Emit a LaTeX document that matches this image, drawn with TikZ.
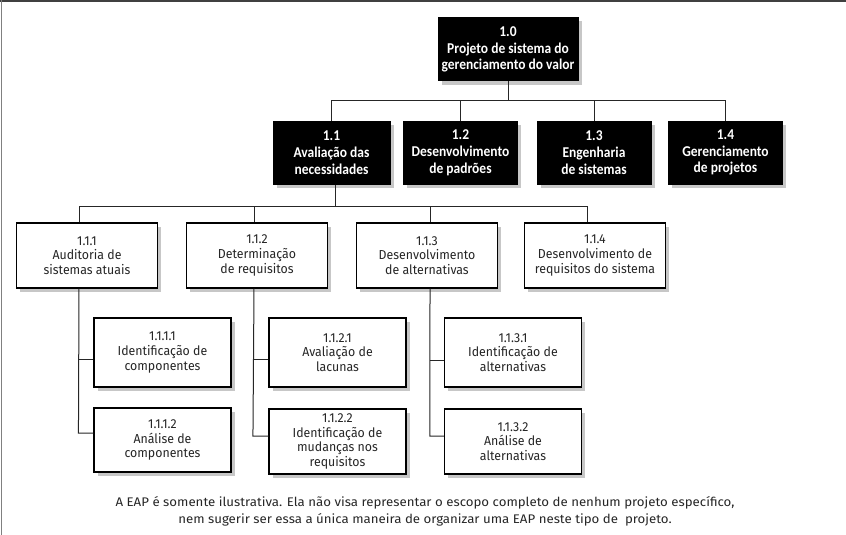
\documentclass[tikz,border=0pt]{standalone}
\usepackage{fontspec}
\setmainfont{Carlito}
\newfontfamily\boxfont[FakeStretch=0.95]{Fira Sans}
\newfontfamily\capfont[FakeStretch=1.06]{Fira Sans}
\newfontfamily\blkfont[FakeStretch=0.9]{Carlito}
\usetikzlibrary{shadows}
\tikzset{
  shad/.style={drop shadow={shadow xshift=3.5pt, shadow yshift=-3.5pt, fill=black!22, opacity=1}},
  blk/.style={shad, draw=black, fill=black, text=white, line width=1pt,
    font=\blkfont\bfseries\fontsize{15}{16.8}\selectfont, align=center,
    inner sep=0pt, minimum width=114pt, minimum height=63pt},
  wbox/.style={shad, draw=black, fill=white, text=black!85, line width=1.1pt,
    font=\boxfont\fontsize{13}{14.6}\selectfont, align=center,
    inner sep=0pt, minimum width=141pt, minimum height=65pt},
  lbox/.style={wbox, minimum width=137pt},
  conn/.style={draw=black!85, line width=1pt},
}
\begin{document}
\begin{tikzpicture}[x=1pt,y=-1pt]
\useasboundingbox (0,0) rectangle (846,535);
\fill[white] (0,0) rectangle (846,535);
\draw[black!75, line width=2pt] (0,1) -- (846,1);
\draw[black!50, line width=1.5pt] (1.5,0) -- (1.5,535);

% level 0 and 1
\node[blk, minimum width=140pt] (n10) at (508,49.5) {1.0\\Projeto de sistema do\\gerenciamento do valor};
\node[blk, minimum width=117pt] (n11) at (331.5,152.5) {1.1\\Avaliação das\\necessidades};
\node[blk] (n12) at (460.5,152.5) {1.2\\Desenvolvimento\\de padrões};
\node[blk] (n13) at (594,152.5) {1.3\\Engenharia\\de sistemas};
\node[blk] (n14) at (725.5,152.5) {1.4\\Gerenciamento\\de projetos};

% level 2
\node[wbox] (n111) at (87,255.5) {1.1.1\\Auditoria de\\sistemas atuais};
\node[wbox] (n112) at (257,255.5) {1.1.2\\Determinação\\de requisitos};
\node[wbox] (n113) at (427,255.5) {1.1.3\\Desenvolvimento\\de alternativas};
\node[wbox] (n114) at (595,255.5) {1.1.4\\Desenvolvimento de\\requisitos do sistema};

% level 3
\node[lbox, minimum height=69pt] (n1111) at (162.5,352.5) {1.1.1.1\\Identificação de\\componentes};
\node[lbox, minimum height=64pt] (n1112) at (162.5,440) {1.1.1.2\\Análise de\\componentes};
\node[lbox, minimum height=69pt] (n1121) at (337.5,352.5) {1.1.2.1\\Avaliação de\\lacunas};
\node[lbox, minimum height=65pt] (n1122) at (337.5,441.5) {1.1.2.2\\Identificação de\\mudanças nos\\requisitos};
\node[lbox, minimum height=69pt] (n1131) at (513,352.5) {1.1.3.1\\Identificação de\\alternativas};
\node[lbox, minimum height=65pt] (n1132) at (513,441.5) {1.1.3.2\\Análise de\\alternativas};

% connectors level 0-1
\coordinate (b1) at (508,100);
\draw[conn] (n10.south) -- (b1);
\draw[conn] (n11.north) -- (n11.north |- b1) -- (n14.north |- b1) -- (n14.north);
\draw[conn] (n12.north) -- (n12.north |- b1);
\draw[conn] (n13.north) -- (n13.north |- b1);

% connectors level 1-2
\coordinate (d1) at (79,206);
\coordinate (d2) at (254,206);
\coordinate (d3) at (430,206);
\coordinate (d4) at (587,206);
\draw[conn] ([xshift=4pt]n11.south) -- ([xshift=4pt]n11.south |- d1);
\draw[conn] (d1) -- (d4);
\draw[conn] (d1) -- (d1 |- n111.north);
\draw[conn] (d2) -- (d2 |- n112.north);
\draw[conn] (d3) -- (d3 |- n113.north);
\draw[conn] (d4) -- (d4 |- n114.north);

% connectors level 2-3
\draw[conn] ([yshift=-6.5pt]n1111.west) -- ++(-15,0);
\draw[conn] ([yshift=7pt]n1112.west) -- ++(-15,0) -- (d1 |- n111.south);
\draw[conn] ([yshift=-6.5pt]n1121.west) -- ++(-15.5,0);
\draw[conn] ([yshift=5.5pt]n1122.west) -- ++(-15.5,0) -- (d2 |- n112.south);
\draw[conn] ([yshift=-7.5pt]n1131.west) -- ++(-14,0);
\draw[conn] ([yshift=5.5pt]n1132.west) -- ++(-14,0) -- (d3 |- n113.south);

% caption
\node[font=\capfont\fontsize{12.5}{17}\selectfont, text=black!85, align=center] (cap) at (425,511.5)
 {A EAP é somente ilustrativa. Ela não visa representar o escopo completo de nenhum projeto específico,\\
  nem sugerir ser essa a única maneira de organizar uma EAP neste tipo de~ projeto.};
\end{tikzpicture}
\end{document}
